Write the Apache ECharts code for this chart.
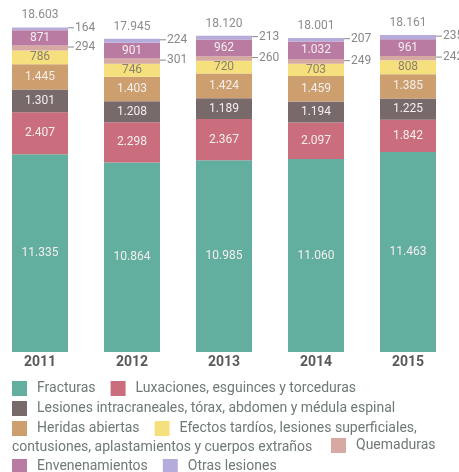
<!DOCTYPE html>
<html lang="es">
<head>
    <meta charset="UTF-8">
    <title>Lesiones por año</title>
    <script src="https://cdn.jsdelivr.net/npm/echarts@6.0.0/dist/echarts.min.js"></script>
    <style>
        html, body { margin: 0; padding: 0; background: #fff; overflow: hidden; }
    </style>
</head>
<body>
<!-- shifted 6px left so the first category band starts outside the window, like the original -->
<div id="chart1" style="position:absolute;left:-6px;top:0;width:465px;height:472px;"></div>

<script>
    // data, bottom to top of each bar
    var years = ['2011', '2012', '2013', '2014', '2015'];
    var fracturas = [11335, 10864, 10985, 11060, 11463];
    var luxaciones = [2407, 2298, 2367, 2097, 1842];
    var intracraneales = [1301, 1208, 1189, 1194, 1225];
    var heridas = [1445, 1403, 1424, 1459, 1385];
    var efectos = [786, 746, 720, 703, 808];
    var quemaduras = [294, 301, 260, 249, 242];
    var envenenamientos = [871, 901, 962, 1032, 961];
    var otras = [164, 224, 213, 207, 235];

    var efectosLines = ['Efectos tardíos, lesiones superficiales,', 'contusiones, aplastamientos y cuerpos extraños'];
    var names = ['Fracturas', 'Luxaciones, esguinces y torceduras',
        'Lesiones intracraneales, tórax, abdomen y médula espinal', 'Heridas abiertas',
        efectosLines.join(' '), 'Quemaduras', 'Envenenamientos', 'Otras lesiones'];
    var values = [fracturas, luxaciones, intracraneales, heridas, efectos, quemaduras, envenenamientos, otras];
    var colors = ['#62afa0', '#ca6d7c', '#78696b', '#cd9e6e', '#f6df7d', '#d6a9a3', '#b97ba1', '#b6acdc'];

    var totals = years.map(function (y, i) {
        return values.reduce(function (s, arr) { return s + arr[i]; }, 0);
    });

    function fmt(v) {
        return String(v).replace(/\B(?=(\d{3})+(?!\d))/g, '.');
    }

    var font = 'Roboto, sans-serif';

    var series = values.map(function (arr, k) {
        var outside = (k === 5 || k === 7);
        return {
            name: names[k],
            type: 'bar',
            stack: 'total',
            barWidth: 56,
            data: arr,
            itemStyle: { color: colors[k] },
            label: outside ? {
                show: true,
                position: 'right',
                distance: 0,
                offset: [0, -1],
                fontFamily: font,
                fontSize: 12,
                color: '#888',
                formatter: function (p) { return '{l|}{v|' + fmt(p.value) + '}'; },
                rich: {
                    l: { width: 6, height: 1, backgroundColor: '#888' },
                    v: { fontSize: 12, color: '#888', fontFamily: font, padding: [0, 0, 0, 1] }
                }
            } : {
                show: true,
                position: 'inside',
                fontFamily: font,
                fontSize: 12,
                color: k === 4 ? '#8a8170' : '#f4eeee',
                formatter: function (p) { return fmt(p.value); }
            }
        };
    });

    // invisible top series carrying the totals
    series.push({
        name: 'Total',
        type: 'bar',
        stack: 'total',
        barWidth: 56,
        data: years.map(function () { return 0; }),
        itemStyle: { color: 'transparent' },
        label: {
            show: true,
            position: 'top',
            distance: 6,
            fontFamily: font,
            fontSize: 12,
            color: '#8c8c8c',
            formatter: function (p) { return fmt(totals[p.dataIndex]); }
        }
    });

    function legendRow(data, left, top) {
        return {
            data: data,
            left: left + 6,
            top: top,
            orient: 'horizontal',
            padding: 0,
            itemWidth: 15,
            itemHeight: 15,
            itemGap: 15,
            icon: 'rect',
            selectedMode: false,
            textStyle: {
                fontFamily: font,
                fontSize: 14,
                lineHeight: 15,
                color: '#6e7a73',
                padding: [0, 0, 0, 5]
            },
            formatter: function (name) {
                return name === names[4] ? efectosLines[0] : name;
            }
        };
    }

    var myChart = echarts.init(document.getElementById('chart1'));
    var option = {
        animation: false,
        grid: { left: 0, right: 5, top: 3, bottom: 120 },
        xAxis: {
            type: 'category',
            data: years,
            axisLine: { show: false },
            axisTick: { show: false },
            axisLabel: {
                margin: 3,
                fontFamily: font,
                fontSize: 14,
                fontWeight: 'bold',
                color: '#595959'
            }
        },
        yAxis: {
            type: 'value',
            min: 0,
            max: 20000,
            show: false
        },
        legend: [
            legendRow([names[0], names[1]], 12, 381),
            legendRow([names[2]], 12, 401),
            legendRow([names[3], names[4]], 12, 421),
            legendRow([names[5]], 331, 438),
            legendRow([names[6], names[7]], 12, 459)
        ],
        graphic: [{
            type: 'text',
            left: 18,
            top: 440,
            style: {
                text: efectosLines[1],
                fontFamily: font,
                fontSize: 14,
                fill: '#6e7a73'
            }
        }],
        series: series
    };
    myChart.setOption(option);
</script>
</body>
</html>
